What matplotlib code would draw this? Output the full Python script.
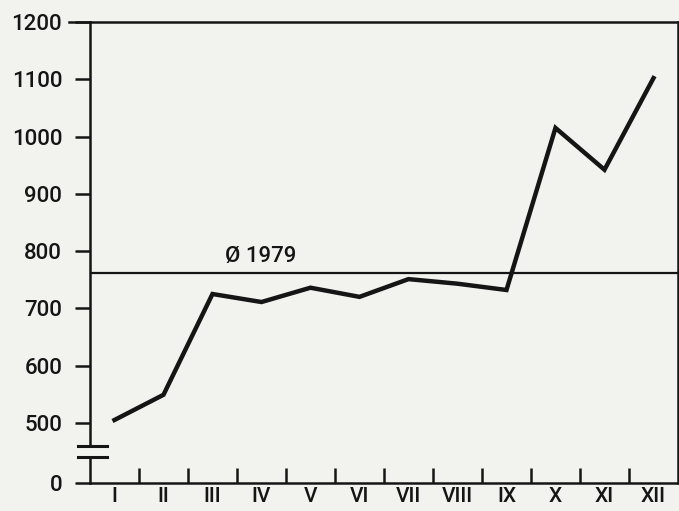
import numpy as np
import matplotlib
matplotlib.use('Agg')
import matplotlib.pyplot as plt

# monthly values
months = ['I', 'II', 'III', 'IV', 'V', 'VI', 'VII', 'VIII', 'IX', 'X', 'XI', 'XII']
values = [505, 549, 725, 711, 736, 720, 751, 743, 732, 1015, 942, 1102]
avg_value = 762
avg_label = 'Ø 1979'

# y axis: 0 sits just below 500, with a break in between
y_ticks = [395, 500, 600, 700, 800, 900, 1000, 1100, 1200]
y_labels = ['0', '500', '600', '700', '800', '900', '1000', '1100', '1200']
break_lo, break_hi = 440, 460

plt.rcParams['font.family'] = ['Roboto', 'DejaVu Sans']
plt.rcParams['font.weight'] = 'medium'
paper = '#f2f2ef'
ink = '#151515'

fig = plt.figure(figsize=(6.79, 5.11), dpi=100, facecolor=paper)
ax = fig.add_axes([0.1325, 0.0548, 0.866, 0.9022], facecolor=paper)

x = np.arange(len(months)) + 0.5
ax.plot(x, values, color=ink, lw=3.2, solid_joinstyle='miter', zorder=3)
ax.axhline(avg_value, color=ink, lw=1.6)
ax.text(2.75, avg_value + 11, avg_label, fontsize=16, color=ink, va='bottom',
        fontweight='medium')

ax.set_xlim(0, 12)
ax.set_ylim(395, 1200)

ax.set_yticks(y_ticks)
ax.set_yticklabels(y_labels, fontsize=16, color=ink, fontweight='medium')
ax.tick_params(axis='y', direction='out', length=11, width=1.8, pad=9, color=ink)

ax.set_xticks(np.arange(1, 12))
ax.set_xticks(x, minor=True)
ax.set_xticklabels(months, minor=True, fontsize=15, color=ink, fontweight='medium')
ax.tick_params(axis='x', which='major', direction='in', length=11, width=1.8,
               labelbottom=False, color=ink)
ax.tick_params(axis='x', which='minor', length=0, pad=3)

for side in ['top', 'right', 'bottom']:
    ax.spines[side].set_linewidth(1.8)
    ax.spines[side].set_color(ink)
ax.spines['left'].set_visible(False)

# broken left axis
ax.plot([0, 0], [break_hi, 1200], color=ink, lw=1.8, clip_on=False)
ax.plot([0, 0], [395, break_lo], color=ink, lw=1.8, clip_on=False)
for yb in (break_lo, break_hi):
    ax.plot([-0.25, 0.35], [yb, yb], color=ink, lw=2.2, clip_on=False)
ax.plot([-0.43, 0], [1200, 1200], color=ink, lw=1.8, clip_on=False)

fig.savefig('out.png', dpi=100, facecolor=paper)
